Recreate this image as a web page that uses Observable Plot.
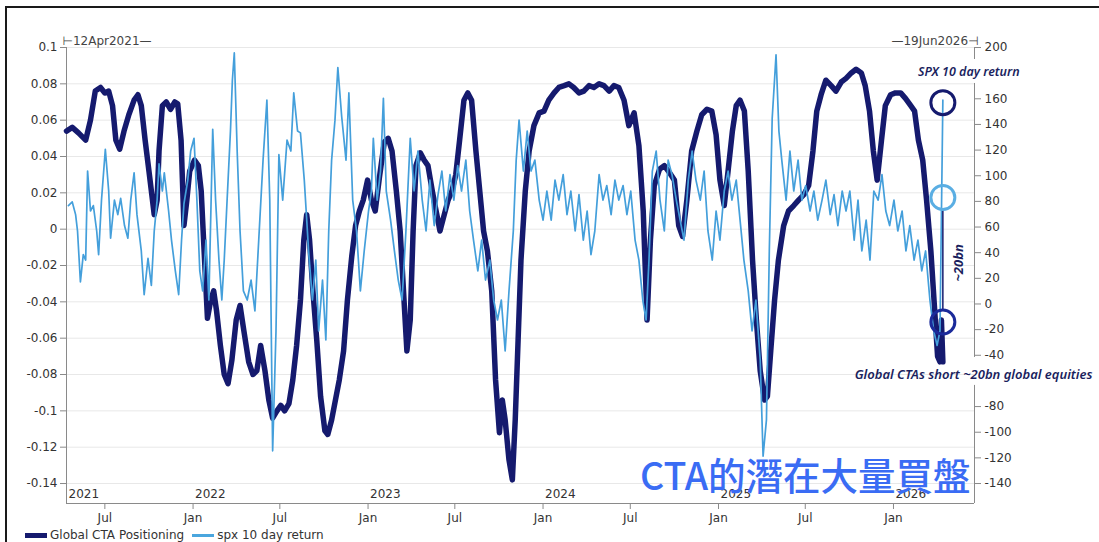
<!DOCTYPE html>
<html><head><meta charset="utf-8">
<script src="https://cdn.jsdelivr.net/npm/d3@7"></script>
<script src="https://cdn.jsdelivr.net/npm/@observablehq/plot@0.6"></script>
<style>
body{margin:0;background:#fff;font-family:"DejaVu Sans",sans-serif;}
#wrap{position:relative;width:1099px;height:542px;overflow:hidden;background:#fff;}
#frame{position:absolute;left:5px;top:6px;width:1200px;height:700px;border-left:2px solid #1a1a1a;border-top:2px solid #1a1a1a;}
#chart{position:absolute;left:0;top:0;}
#legend{position:absolute;left:25px;top:527px;height:16px;font-size:12px;color:#333;display:flex;align-items:center;white-space:nowrap;}
#legend .sw{display:inline-block;width:22px;margin-right:3px;}
#overlay{position:absolute;left:640px;top:454px;font-family:"Noto Sans CJK TC",sans-serif;font-size:37.5px;font-weight:500;line-height:40px;color:#3a6cf4;white-space:nowrap;}
</style></head>
<body>
<div id="wrap">
<div id="frame"></div>
<div id="chart"></div>
<div id="legend"><span class="sw" style="height:5px;background:#151a6e"></span><span>Global CTA Positioning</span><span class="sw" style="height:3px;background:#4aa6de;margin-left:8px"></span><span>spx 10 day return</span></div>
<div id="overlay">CTA的潛在大量買盤</div>
</div>
<script>
// ---- Global CTA Positioning (left axis) ----
const ctaDates = [
"2021-04-12","2021-04-24","2021-05-07","2021-05-22","2021-06-01","2021-06-11","2021-06-22","2021-07-01","2021-07-09","2021-07-17","2021-07-24","2021-08-01","2021-08-10","2021-08-20","2021-08-31","2021-09-08","2021-09-15","2021-09-23","2021-10-01","2021-10-12","2021-10-18","2021-10-22","2021-10-29","2021-11-06","2021-11-15","2021-11-24","2021-11-30","2021-12-07","2021-12-13","2021-12-19","2021-12-25",
"2022-01-04","2022-01-12","2022-01-18","2022-01-25","2022-01-31","2022-02-07","2022-02-13","2022-02-19","2022-02-27","2022-03-07","2022-03-15","2022-03-23","2022-04-01","2022-04-09","2022-04-17","2022-04-27","2022-05-06","2022-05-14","2022-05-22","2022-05-31","2022-06-08","2022-06-16","2022-06-25","2022-07-03","2022-07-11","2022-07-20","2022-07-28","2022-08-05","2022-08-13","2022-08-20","2022-08-26","2022-09-01","2022-09-08","2022-09-16","2022-09-24","2022-10-03","2022-10-09","2022-10-17","2022-10-25","2022-11-02","2022-11-11","2022-11-19","2022-11-28","2022-12-06","2022-12-14","2022-12-22","2022-12-31",
"2023-01-08","2023-01-16","2023-01-25","2023-02-04","2023-02-12","2023-02-20","2023-03-01","2023-03-09","2023-03-17","2023-03-23","2023-03-30","2023-04-05","2023-04-11","2023-04-20","2023-04-28","2023-05-06","2023-05-15","2023-05-23","2023-05-31","2023-06-09","2023-06-17","2023-06-25","2023-07-03","2023-07-11","2023-07-20","2023-07-28","2023-08-05","2023-08-14","2023-08-22","2023-08-30","2023-09-07","2023-09-16","2023-09-24","2023-10-02","2023-10-08","2023-10-14","2023-10-22","2023-10-29","2023-11-04","2023-11-10","2023-11-16","2023-11-25","2023-12-03","2023-12-13","2023-12-24",
"2024-01-03","2024-01-13","2024-01-24","2024-02-03","2024-02-14","2024-02-24","2024-03-05","2024-03-16","2024-03-26","2024-04-06","2024-04-16","2024-04-27","2024-05-07","2024-05-18","2024-05-28","2024-06-07","2024-06-18","2024-06-28","2024-07-09","2024-07-19","2024-07-28","2024-08-05","2024-08-12","2024-08-20","2024-08-31","2024-09-10","2024-09-21","2024-10-01","2024-10-10","2024-10-18","2024-10-27","2024-11-06","2024-11-17","2024-11-27","2024-12-08","2024-12-18","2024-12-27",
"2025-01-04","2025-01-13","2025-01-21","2025-01-30","2025-02-07","2025-02-15","2025-02-24","2025-03-04","2025-03-13","2025-03-21","2025-03-29","2025-04-07","2025-04-13","2025-04-20","2025-04-28","2025-05-06","2025-05-17","2025-05-27","2025-06-07","2025-06-17","2025-06-28","2025-07-08","2025-07-17","2025-07-25","2025-08-03","2025-08-13","2025-08-24","2025-09-03","2025-09-14","2025-09-24","2025-10-05","2025-10-15","2025-10-26","2025-11-03","2025-11-12","2025-11-20","2025-11-28","2025-12-07","2025-12-15","2025-12-26",
"2026-01-05","2026-01-16","2026-01-26","2026-02-06","2026-02-14","2026-02-22","2026-03-03","2026-03-11","2026-03-20","2026-03-28","2026-04-03","2026-04-08","2026-04-11","2026-04-14"];
const ctaValues = [
0.054,0.056,0.053,0.049,0.060,0.076,0.078,0.075,0.076,0.068,0.049,0.044,0.054,0.063,0.071,0.074,0.068,0.049,0.032,0.008,0.016,0.043,0.068,0.070,0.066,0.070,0.069,0.049,0.002,0.016,0.032,
0.038,0.035,0.021,-0.017,-0.049,-0.039,-0.034,-0.045,-0.064,-0.080,-0.085,-0.072,-0.050,-0.042,-0.056,-0.073,-0.080,-0.078,-0.064,-0.078,-0.094,-0.104,-0.100,-0.097,-0.100,-0.096,-0.083,-0.064,-0.039,-0.006,0.008,-0.006,-0.034,-0.061,-0.092,-0.111,-0.113,-0.105,-0.094,-0.083,-0.067,-0.039,-0.015,0.002,0.010,0.016,0.027,
0.016,0.010,0.029,0.048,0.050,0.043,0.021,-0.001,-0.039,-0.067,-0.050,-0.001,0.035,0.042,0.038,0.035,0.021,0.010,-0.001,0.008,0.016,0.021,0.030,0.049,0.071,0.075,0.071,0.043,0.021,-0.001,-0.012,-0.034,-0.083,-0.112,-0.094,-0.105,-0.127,-0.138,-0.105,-0.061,-0.017,0.021,0.043,0.057,0.064,
0.065,0.071,0.075,0.078,0.079,0.080,0.078,0.075,0.076,0.079,0.078,0.080,0.079,0.076,0.079,0.078,0.071,0.057,0.064,0.046,0.010,-0.050,-0.006,0.024,0.033,0.035,0.031,0.027,0.002,-0.004,0.016,0.043,0.054,0.063,0.066,0.065,0.052,
0.027,0.013,0.032,0.054,0.068,0.071,0.065,0.032,-0.017,-0.050,-0.078,-0.094,-0.092,-0.067,-0.039,-0.017,0.002,0.010,0.013,0.016,0.019,0.024,0.043,0.065,0.074,0.082,0.079,0.076,0.081,0.083,0.086,0.088,0.086,0.079,0.065,0.043,0.027,0.049,0.068,0.074,
0.075,0.075,0.072,0.068,0.065,0.049,0.038,0.016,-0.012,-0.045,-0.070,-0.073,-0.050,-0.073];

// ---- spx 10 day return ----
const spxDates = [
"2021-04-16","2021-04-24","2021-05-01","2021-05-05","2021-05-11","2021-05-17","2021-05-22","2021-05-26","2021-06-01","2021-06-07","2021-06-14","2021-06-18","2021-06-24","2021-07-02","2021-07-09","2021-07-13","2021-07-21","2021-07-28","2021-08-03","2021-08-11","2021-08-18","2021-08-24","2021-08-31","2021-09-06","2021-09-15","2021-09-21","2021-09-29","2021-10-06","2021-10-12","2021-10-18","2021-10-22","2021-10-29","2021-11-02","2021-11-11","2021-11-17","2021-11-25","2021-12-02","2021-12-08","2021-12-13","2021-12-21","2021-12-27",
"2022-01-03","2022-01-09","2022-01-15","2022-01-21","2022-01-28","2022-02-03","2022-02-11","2022-02-17","2022-02-24","2022-03-02","2022-03-07","2022-03-13","2022-03-20","2022-03-24","2022-03-28","2022-04-03","2022-04-09","2022-04-16","2022-04-24","2022-05-02","2022-05-10","2022-05-18","2022-05-27","2022-06-04","2022-06-10","2022-06-16","2022-06-23","2022-06-29","2022-07-07","2022-07-16","2022-07-24","2022-07-30","2022-08-07","2022-08-13","2022-08-21","2022-08-30","2022-09-07","2022-09-14","2022-09-20","2022-09-28","2022-10-05","2022-10-11","2022-10-17","2022-10-24","2022-10-30","2022-11-07","2022-11-16","2022-11-22","2022-11-30","2022-12-08","2022-12-16","2022-12-24",
"2023-01-02","2023-01-08","2023-01-12","2023-01-20","2023-01-27","2023-02-02","2023-02-08","2023-02-17","2023-02-25","2023-03-05","2023-03-13","2023-03-21","2023-03-30","2023-04-07","2023-04-15","2023-04-24","2023-05-02","2023-05-10","2023-05-19","2023-05-27","2023-06-04","2023-06-12","2023-06-21","2023-06-29","2023-07-07","2023-07-15","2023-07-24","2023-08-01","2023-08-09","2023-08-18","2023-08-26","2023-09-03","2023-09-12","2023-09-20","2023-09-28","2023-10-06","2023-10-14","2023-10-22","2023-10-31","2023-11-06","2023-11-12","2023-11-21","2023-11-29","2023-12-07","2023-12-15","2023-12-24",
"2024-01-01","2024-01-09","2024-01-18","2024-01-26","2024-02-03","2024-02-12","2024-02-20","2024-02-28","2024-03-08","2024-03-16","2024-03-25","2024-04-02","2024-04-10","2024-04-18","2024-04-27","2024-05-05","2024-05-13","2024-05-22","2024-05-30","2024-06-07","2024-06-16","2024-06-24","2024-07-02","2024-07-11","2024-07-19","2024-07-27","2024-08-03","2024-08-09","2024-08-16","2024-08-24","2024-09-01","2024-09-10","2024-09-18","2024-09-26","2024-10-05","2024-10-13","2024-10-21","2024-10-30","2024-11-07","2024-11-15","2024-11-24","2024-12-02","2024-12-10","2024-12-19","2024-12-27",
"2025-01-04","2025-01-13","2025-01-21","2025-01-29","2025-02-07","2025-02-15","2025-02-23","2025-03-04","2025-03-12","2025-03-20","2025-03-29","2025-04-04","2025-04-11","2025-04-17","2025-04-23","2025-04-29","2025-05-01","2025-05-07","2025-05-13","2025-05-22","2025-05-30","2025-06-07","2025-06-16","2025-06-24","2025-07-02","2025-07-11","2025-07-19","2025-07-27","2025-08-05","2025-08-13","2025-08-22","2025-08-30","2025-09-07","2025-09-16","2025-09-24","2025-10-02","2025-10-11","2025-10-19","2025-10-27","2025-11-05","2025-11-13","2025-11-21","2025-11-30","2025-12-08","2025-12-16","2025-12-24",
"2026-01-02","2026-01-10","2026-01-19","2026-01-27","2026-02-04","2026-02-13","2026-02-21","2026-03-01","2026-03-09","2026-03-18","2026-03-26","2026-04-02","2026-04-08","2026-04-14"];
const spxValues = [
0.013,0.015,0.008,-0.001,-0.029,-0.014,-0.017,0.032,0.010,0.013,-0.001,-0.014,0.016,0.044,0.021,-0.005,0.016,0.008,0.017,0.002,-0.005,0.016,0.031,0.008,-0.012,-0.036,-0.016,-0.031,-0.001,0.016,0.036,0.021,0.031,0.010,-0.006,-0.023,-0.036,-0.006,0.014,0.027,0.043,
0.050,0.016,-0.023,-0.034,-0.006,-0.039,0.055,0.016,-0.017,-0.039,-0.017,0.016,0.054,0.082,0.097,0.043,-0.001,-0.034,-0.039,-0.028,-0.045,-0.006,0.038,0.071,0.016,-0.122,-0.056,0.041,0.016,0.049,0.043,0.075,0.054,0.053,0.027,-0.012,-0.039,-0.017,-0.056,-0.028,-0.061,-0.001,0.038,0.060,0.089,0.062,0.038,0.075,0.016,-0.001,-0.034,-0.012,
0.010,0.021,0.050,0.016,0.032,0.072,0.021,0.005,-0.012,-0.028,-0.039,-0.001,0.050,0.021,0.043,0.016,-0.001,0.027,0.002,0.019,0.032,0.010,0.030,0.016,0.035,0.021,0.038,0.010,-0.006,-0.023,-0.006,-0.028,-0.017,-0.039,-0.050,-0.039,-0.067,-0.034,-0.001,0.038,0.060,0.032,0.054,0.032,0.038,0.016,
0.005,0.021,0.005,0.027,0.016,0.030,0.008,0.021,-0.001,0.019,-0.006,0.010,-0.014,-0.001,0.030,0.016,0.024,0.008,0.027,0.016,0.024,0.008,0.021,-0.006,-0.017,-0.039,-0.050,-0.017,0.032,0.043,0.016,-0.001,0.038,0.030,0.016,0.005,-0.006,0.027,0.043,0.027,0.016,0.032,-0.001,-0.017,0.010,
-0.006,0.021,0.032,0.016,0.027,0.005,-0.017,-0.034,-0.056,-0.039,-0.072,-0.125,-0.105,-0.012,0.061,0.087,0.096,0.054,0.038,0.016,0.043,0.021,0.038,0.016,0.024,0.010,0.021,0.005,0.016,0.027,0.008,0.019,0.002,0.021,0.010,0.021,-0.006,0.016,-0.012,0.005,-0.017,0.021,0.016,0.030,0.010,0.002,
0.016,-0.001,0.010,-0.012,0.002,-0.017,-0.006,-0.023,-0.012,-0.039,-0.056,-0.064,-0.056,0.071];

// ---- axes ----
const leftTicks = [0.1,0.08,0.06,0.04,0.02,0,-0.02,-0.04,-0.06,-0.08,-0.1,-0.12,-0.14];
const rightTicks = [200,160,140,120,100,80,60,40,20,0,-20,-40,-80,-100,-120,-140];
const monthTicks = ["2021-07-01","2022-01-01","2022-07-01","2023-01-01","2023-07-01","2024-01-01","2024-07-01","2025-01-01","2025-07-01","2026-01-01"];
const yearLabelDates = ["2021-04-12","2022-01-01","2023-01-01","2024-01-01","2025-01-01","2026-01-01"];
const yearLabelTexts = ["2021","2022","2023","2024","2025","2026"];
const startLabel = "⊢12Apr2021—", endLabel = "—19Jun2026⊣";

// right axis (spx scale) maps linearly onto left: 200 ↔ 0.1, -140 ↔ -0.14
const rToV = r => -0.14 + (r + 140) * 0.24 / 340;
const vToR = v => Math.round((v + 0.14) * 340 / 0.24 - 140);

const cta = ctaDates.map((d, i) => ({date: new Date(d), v: ctaValues[i]}));
const spx = spxDates.map((d, i) => ({date: new Date(d), v: spxValues[i]}));

const x0 = new Date("2021-04-12"), x1 = new Date("2026-06-19");
const yTop = 0.1, yBot = -0.151;
const H = 527;
const navy = "#151a6e", light = "#449fdb", axisC = "#8a8a8a", textC = "#333";
const annC = "#1b1f5e";
const circleDate = new Date("2026-04-14");

const fmtL = v => String(Math.round(v * 100) / 100);

const plot = Plot.plot({
  width: 1099, height: H,
  marginLeft: 66, marginRight: 125, marginTop: 47, marginBottom: H - 503,
  x: {type: "utc", domain: [x0, x1]},
  y: {domain: [yBot, yTop]},
  style: {fontFamily: "DejaVu Sans, sans-serif", fontSize: "12px", background: "transparent", overflow: "visible"},
  marks: [
    Plot.gridY(leftTicks, {stroke: "#e8e8e8", strokeOpacity: 1}),
    Plot.ruleX([x0], {stroke: axisC}),
    Plot.ruleY([yBot], {stroke: axisC}),
    // right axis line with gaps for annotations
    Plot.ruleX([{y1: 0.1, y2: 0.0934}, {y1: 0.0802, y2: -0.0706}, {y1: -0.086, y2: yBot}],
      {x: () => x1, y1: "y1", y2: "y2", stroke: axisC}),
    Plot.axisY({anchor: "left", ticks: leftTicks, tickFormat: fmtL, tickSize: 6, tickPadding: 3, label: null, stroke: axisC, fill: textC}),
    Plot.axisY({anchor: "right", ticks: rightTicks.map(rToV), tickFormat: v => String(vToR(v)), tickSize: 6, tickPadding: 4, label: null, stroke: axisC, fill: textC}),
    Plot.axisX({anchor: "bottom", ticks: monthTicks.map(d => new Date(d)), tickFormat: d => d.getUTCMonth() === 0 ? "Jan" : "Jul", tickSize: 6, tickPadding: 4, label: null, stroke: axisC, fill: textC}),
    Plot.text(yearLabelDates, {x: d => new Date(d), y: () => yBot, text: (d, i) => yearLabelTexts[i], textAnchor: "start", dx: 2, dy: -9, fill: textC}),
    Plot.text([startLabel], {frameAnchor: "top-left", textAnchor: "start", dx: -4, dy: -11, fill: "#444"}),
    Plot.text([endLabel], {frameAnchor: "top-right", textAnchor: "end", dx: 4, dy: -11, fill: "#444"}),
    // series
    Plot.line(cta, {x: "date", y: "v", stroke: navy, strokeWidth: 5.5, strokeLinejoin: "round", strokeLinecap: "round"}),
    Plot.line(spx, {x: "date", y: "v", stroke: light, strokeWidth: 1.7}),
    // annotations
    Plot.ruleX([circleDate], {y1: rToV(73), y2: rToV(-5), stroke: navy, strokeWidth: 1.5}),
    Plot.dot([{d: circleDate, r: 157}], {x: "d", y: d => rToV(d.r), r: 12, stroke: navy, strokeWidth: 3, fill: "none"}),
    Plot.dot([{d: circleDate, r: 83}], {x: "d", y: d => rToV(d.r), r: 12, stroke: "#5aaee3", strokeWidth: 3, fill: "none"}),
    Plot.dot([{d: circleDate, r: -14}], {x: "d", y: d => rToV(d.r), r: 12, stroke: "#1b2a9a", strokeWidth: 3, fill: "none"}),
    Plot.text(["~20bn"], {x: () => new Date("2026-05-17"), y: () => rToV(32), rotate: -90, fill: annC, fontStyle: "italic", fontWeight: 700, fontSize: 13, fontFamily: "Noto Sans"}),
    Plot.text(["SPX 10 day return"], {x: () => new Date("2026-06-07"), y: () => rToV(181), fill: annC, fontStyle: "italic", fontWeight: 600, fontSize: 12.5, fontFamily: "Noto Sans"}),
    Plot.text(["Global CTAs short ~20bn global equities"], {x: () => new Date("2026-06-17"), y: () => rToV(-55), fill: annC, fontStyle: "italic", fontWeight: 600, fontSize: 13, fontFamily: "Noto Sans"})
  ]
});
document.getElementById("chart").appendChild(plot);
</script>
</body></html>
